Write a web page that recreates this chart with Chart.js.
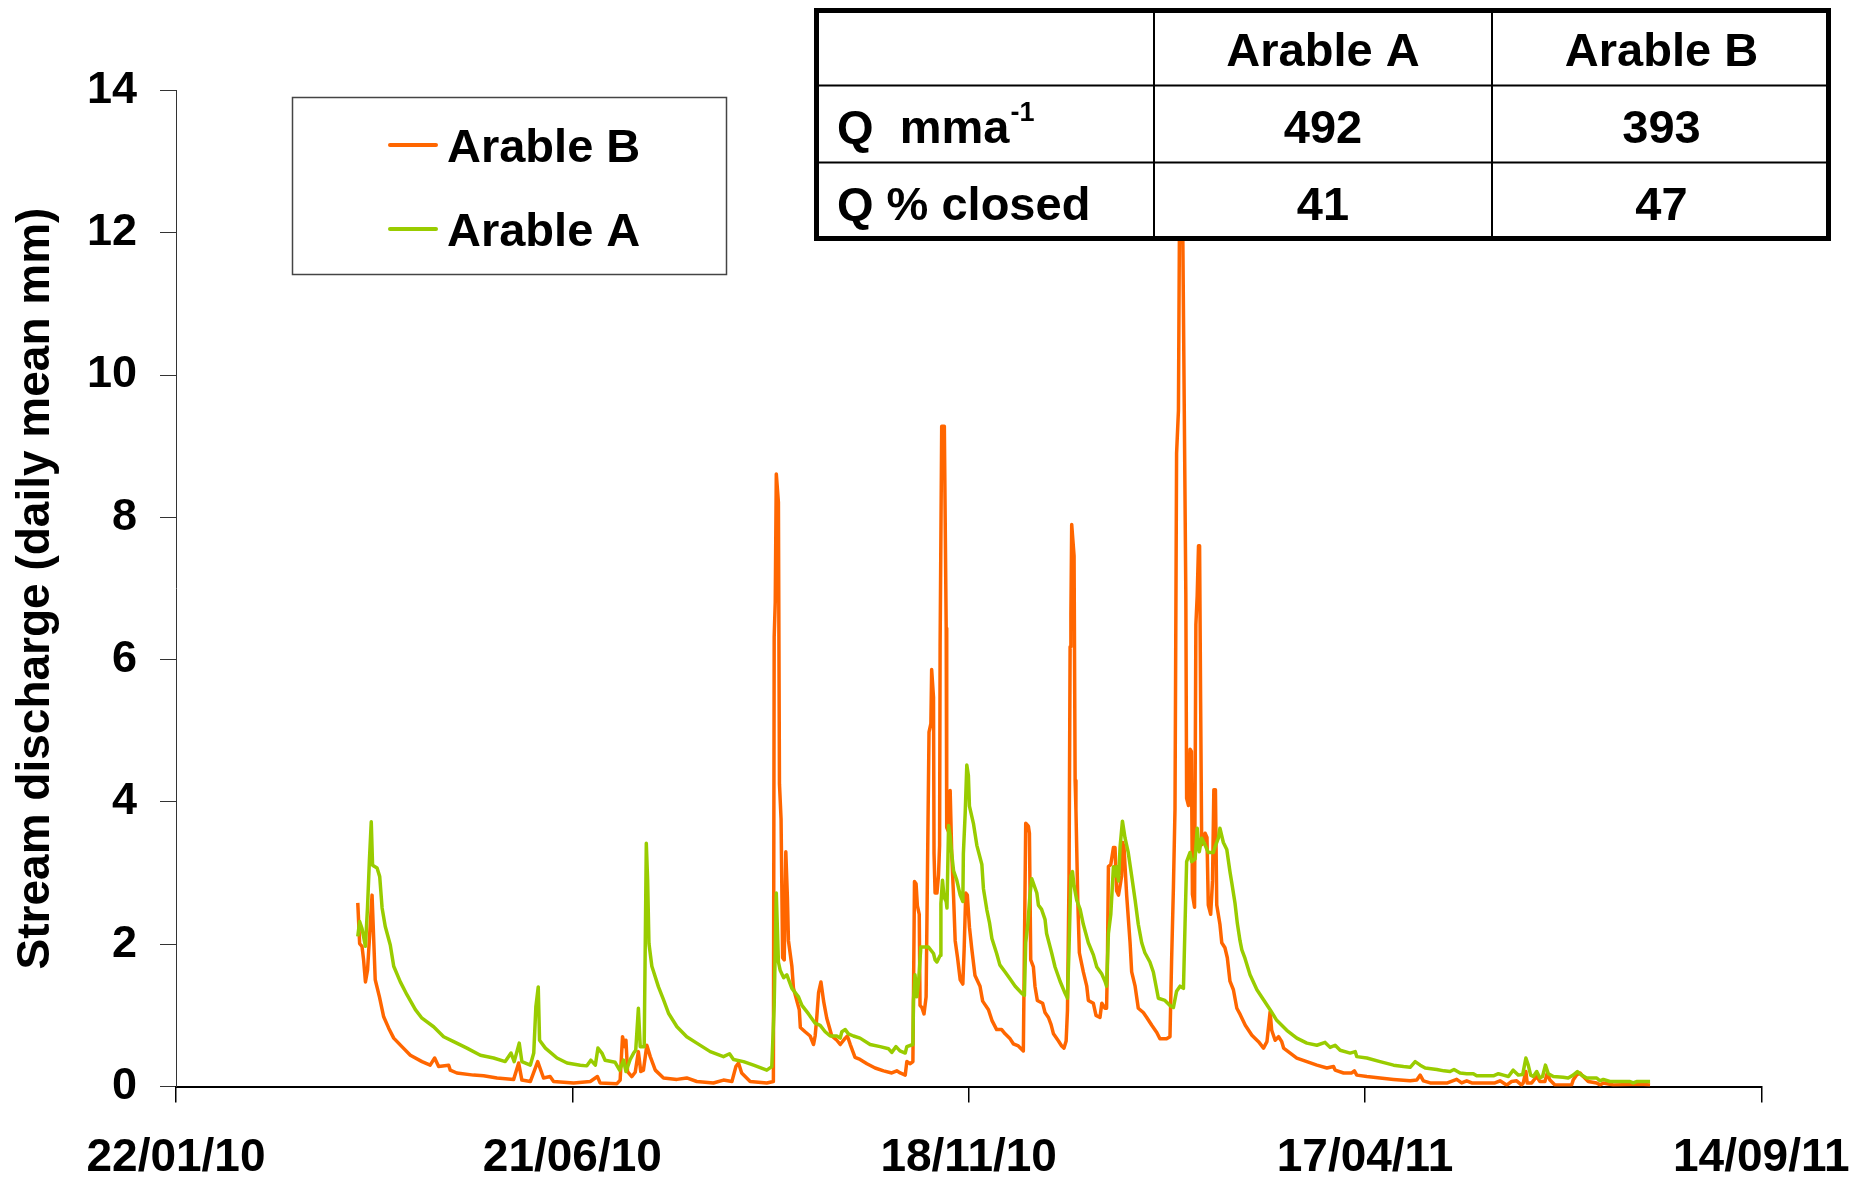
<!DOCTYPE html>
<html>
<head>
<meta charset="utf-8">
<script src="https://cdn.jsdelivr.net/npm/chart.js@4/dist/chart.umd.min.js"></script>
<style>
  html, body { margin: 0; padding: 0; background: #fff; }
  #wrap { position: relative; width: 1861px; height: 1180px; }
</style>
</head>
<body>
<div id="wrap"><canvas id="c" width="1861" height="1180"></canvas></div>
<script>
// Days are counted from 22/01/10 (day 0).
const tickDays = [0, 150, 300, 450, 600];
const tickLabels = ['22/01/10', '21/06/10', '18/11/10', '17/04/11', '14/09/11'];

const seriesNames = ['Arable B', 'Arable A'];

const daysB = [68.8,69.5,70.4,71.0,71.7,72.5,74.2,75.4,77.0,78.6,80.5,82.4,85.5,88.7,93.1,96.2,97.9,99.4,103.2,103.8,106.3,112.6,116.4,121.5,127.8,129.7,130.9,134.1,136.9,139.1,141.6,142.9,150.5,156.8,159.5,160.5,166.9,168.1,169.0,169.8,170.3,170.9,172.5,173.8,175.0,175.9,176.9,178.2,179.5,181.4,184.5,189.6,193.3,197.1,203.4,207.2,210.4,211.9,212.9,214.1,217.3,223.6,226.1,226.4,226.8,227.2,228.0,228.4,229.0,229.6,230.2,230.8,231.4,231.8,233.1,233.7,235.0,235.9,236.3,238.1,240.0,241.3,241.9,242.5,243.2,244.1,245.1,246.3,247.3,248.2,250.1,251.4,253.3,254.1,255.2,257.0,258.9,261.5,264.6,267.8,270.9,272.8,274.1,276.0,276.6,277.9,278.9,279.5,280.1,280.6,281.3,281.6,282.3,283.1,283.9,284.4,285.0,285.7,286.0,286.7,286.9,287.3,288.0,288.6,289.0,289.2,289.8,290.8,291.5,291.7,292.4,293.0,293.6,294.3,294.9,295.8,296.8,297.8,298.3,298.9,299.5,300.3,301.2,302.4,304.3,305.3,307.5,308.8,310.6,312.5,313.8,315.7,316.9,318.8,320.7,321.6,322.6,323.0,323.5,324.5,325.1,326.0,328.0,328.9,330.2,331.2,332.1,334.0,335.2,336.1,336.9,337.4,338.0,338.4,338.7,339.0,339.9,340.3,340.6,341.3,341.9,343.4,344.7,345.3,347.2,348.2,349.7,350.4,351.6,352.2,352.5,352.9,353.8,354.8,355.4,356.0,356.7,357.3,357.9,358.3,358.8,359.8,361.1,361.7,363.0,364.2,366.1,367.4,369.3,371.2,372.4,374.9,376.2,376.8,377.5,378.1,378.7,379.4,379.8,381.0,382.2,382.5,383.2,383.8,384.3,384.7,385.5,386.0,386.5,387.0,387.4,387.8,388.2,389.0,389.5,390.2,390.7,391.6,392.3,392.8,393.4,393.9,395.1,395.8,397.0,397.9,398.9,400.2,401.5,402.8,404.7,407.2,409.7,411.6,412.9,414.1,414.7,416.0,417.3,418.5,419.2,421.7,424.2,428.0,431.8,435.6,438.1,438.7,441.9,445.0,446.0,446.9,450.7,455.7,460.8,467.1,469.6,470.9,472.1,474.7,481.2,484.7,486.6,488.5,490.4,499.2,501.1,503.6,505.5,507.4,509.3,509.9,510.9,511.4,513.1,515.0,516.2,518.1,519.0,520.0,521.9,528.2,528.8,530.1,531.4,532.6,534.5,537.7,539.0,540.2,544.0,554.1,557.9];
const arableB = [2.58,2.01,1.97,1.78,1.47,1.64,2.69,1.50,1.26,0.98,0.82,0.68,0.56,0.44,0.35,0.30,0.40,0.28,0.30,0.23,0.19,0.16,0.15,0.12,0.10,0.33,0.09,0.07,0.35,0.12,0.14,0.07,0.05,0.07,0.14,0.05,0.04,0.09,0.70,0.56,0.65,0.21,0.14,0.20,0.49,0.21,0.23,0.58,0.42,0.23,0.12,0.10,0.12,0.07,0.05,0.09,0.07,0.28,0.33,0.19,0.07,0.05,0.07,6.32,6.81,8.61,8.21,4.25,3.76,1.81,1.78,3.30,2.66,2.05,1.69,1.38,1.20,1.08,0.83,0.77,0.71,0.59,0.71,0.96,1.32,1.47,1.20,0.96,0.83,0.71,0.65,0.59,0.68,0.71,0.59,0.41,0.38,0.32,0.26,0.22,0.19,0.22,0.19,0.16,0.35,0.32,0.35,2.88,2.85,2.54,2.42,1.14,1.11,1.02,1.26,2.97,4.98,5.10,5.86,5.47,3.27,2.72,2.72,2.97,3.39,6.20,9.28,9.28,6.44,3.64,3.58,4.16,3.27,2.66,2.05,1.81,1.50,1.44,1.93,2.72,2.69,2.24,1.93,1.56,1.41,1.20,1.08,0.93,0.80,0.80,0.74,0.67,0.60,0.57,0.50,3.70,3.66,3.56,1.78,1.68,1.41,1.21,1.17,1.04,0.97,0.87,0.74,0.64,0.57,0.54,0.64,1.07,2.96,6.18,6.65,7.90,7.46,4.30,3.90,2.62,1.88,1.61,1.41,1.21,1.17,1.00,0.97,1.17,1.10,1.10,1.68,3.09,3.12,3.36,3.36,2.75,2.69,2.82,2.96,3.43,3.36,2.69,2.02,1.61,1.41,1.10,1.04,0.97,0.86,0.76,0.67,0.67,0.70,1.75,2.80,3.90,8.90,9.50,12.2,12.2,6.90,4.05,3.95,4.74,4.71,2.70,2.52,6.49,6.90,7.60,7.60,5.40,3.40,3.45,3.56,3.50,2.55,2.42,2.89,4.17,4.17,2.55,2.28,2.02,1.95,1.81,1.48,1.36,1.10,1.01,0.86,0.72,0.63,0.54,0.63,1.05,0.79,0.65,0.70,0.63,0.54,0.47,0.40,0.35,0.30,0.26,0.28,0.23,0.19,0.19,0.22,0.16,0.14,0.12,0.10,0.08,0.09,0.16,0.08,0.05,0.05,0.10,0.05,0.08,0.05,0.05,0.08,0.02,0.07,0.08,0.02,0.05,0.21,0.05,0.05,0.14,0.07,0.07,0.19,0.09,0.02,0.02,0.09,0.16,0.19,0.14,0.07,0.05,0.02,0.05,0.02,0.03,0.02];

const daysA = [68.8,69.5,70.4,71.7,72.5,73.2,73.9,74.4,76.1,77.1,78.0,79.2,81.1,82.4,84.9,87.4,90.6,93.1,97.5,101.3,105.1,110.1,115.2,120.2,124.6,126.8,128.0,129.9,130.9,134.1,135.4,136.2,137.1,137.6,139.8,144.2,148.0,153.0,155.5,157.0,158.7,159.7,161.2,162.4,166.2,167.9,169.4,170.3,171.9,173.2,174.0,175.0,175.7,177.2,178.0,178.5,179.0,180.1,182.6,184.5,186.4,189.6,193.3,197.1,202.2,207.2,209.5,211.0,214.8,218.6,223.6,225.5,226.4,227.2,228.0,228.7,230.0,231.2,233.1,235.6,236.9,239.4,241.9,243.8,245.7,247.6,250.1,251.4,252.0,253.3,254.5,256.4,258.9,262.7,266.5,269.7,270.9,272.5,274.0,276.0,276.6,278.9,279.1,279.7,280.4,281.1,281.9,284.8,286.7,287.3,288.0,289.2,289.5,290.1,290.7,291.5,291.8,292.4,293.0,293.6,294.3,295.5,296.8,297.8,298.0,298.7,299.3,299.9,300.3,301.8,303.1,305.0,305.6,306.9,307.9,308.8,310.6,311.8,313.8,315.7,317.6,320.1,321.1,321.6,322.4,323.2,323.9,325.8,326.4,327.6,328.9,329.5,331.4,332.7,334.6,336.5,337.4,338.0,338.7,339.3,339.9,340.9,342.2,343.4,345.3,347.2,348.5,350.4,351.6,352.2,352.9,353.8,354.8,355.4,356.0,356.7,357.3,358.2,359.2,360.4,361.7,363.0,364.2,365.5,366.7,368.6,369.9,371.8,374.3,376.2,377.5,378.7,380.0,381.3,381.9,382.5,383.8,384.4,385.7,386.5,387.3,388.2,389.4,390.7,392.6,393.2,394.5,395.1,396.4,397.7,398.9,399.6,400.8,401.7,402.7,403.4,404.6,406.5,409.1,411.6,414.1,416.6,420.4,424.2,428.0,431.8,434.9,436.8,438.7,440.6,444.4,446.3,446.9,450.7,455.7,460.8,464.6,467.1,469.0,470.9,472.8,477.2,479.9,482.2,483.7,486.0,488.5,491.0,492.3,498.6,500.5,502.4,504.3,506.1,508.0,509.7,510.9,511.8,512.7,513.7,515.0,516.2,517.2,518.3,519.4,521.3,525.0,526.9,528.8,530.4,532.0,533.9,537.7,538.9,540.2,542.7,550.3,551.5,552.8,557.9];
const arableA = [2.11,2.32,2.22,1.97,2.53,3.18,3.72,3.11,3.07,2.95,2.51,2.25,1.99,1.69,1.47,1.29,1.08,0.96,0.84,0.70,0.63,0.54,0.44,0.40,0.35,0.47,0.35,0.61,0.35,0.30,0.47,1.12,1.40,0.65,0.54,0.40,0.33,0.30,0.29,0.37,0.30,0.54,0.47,0.37,0.34,0.23,0.37,0.21,0.38,0.47,0.51,1.10,0.56,0.56,3.42,2.90,2.01,1.69,1.40,1.22,1.03,0.84,0.70,0.61,0.49,0.42,0.46,0.38,0.35,0.30,0.23,0.28,1.14,2.72,1.75,1.63,1.53,1.57,1.38,1.26,1.14,1.02,0.89,0.86,0.77,0.71,0.71,0.68,0.77,0.80,0.74,0.71,0.68,0.59,0.56,0.53,0.48,0.56,0.50,0.47,0.56,0.59,1.20,1.57,1.26,1.50,1.96,1.96,1.87,1.78,1.75,1.84,2.57,2.90,2.66,2.60,2.51,3.67,3.52,3.27,3.03,2.90,2.69,2.60,3.27,3.85,4.52,4.37,3.94,3.70,3.39,3.12,2.78,2.48,2.30,2.08,1.87,1.71,1.61,1.51,1.41,1.31,1.28,2.02,2.28,2.69,2.92,2.72,2.55,2.49,2.35,2.15,1.88,1.68,1.48,1.31,1.24,1.95,2.96,3.02,2.82,2.62,2.49,2.28,2.02,1.85,1.68,1.58,1.48,1.41,2.15,2.42,3.09,2.96,3.09,2.89,3.36,3.73,3.49,3.29,2.96,2.62,2.28,2.02,1.88,1.75,1.61,1.24,1.21,1.14,1.11,1.34,1.41,1.38,2.28,3.16,3.29,3.16,3.20,3.63,3.30,3.49,3.40,3.29,3.29,3.36,3.49,3.63,3.43,3.33,3.02,2.86,2.58,2.29,2.05,1.92,1.80,1.57,1.36,1.22,1.08,0.93,0.79,0.68,0.61,0.58,0.62,0.55,0.58,0.51,0.47,0.49,0.42,0.40,0.35,0.30,0.28,0.27,0.35,0.30,0.26,0.24,0.22,0.21,0.24,0.19,0.18,0.18,0.15,0.15,0.18,0.16,0.14,0.23,0.16,0.17,0.40,0.30,0.16,0.14,0.21,0.12,0.14,0.30,0.18,0.14,0.13,0.12,0.16,0.21,0.16,0.12,0.12,0.08,0.10,0.07,0.07,0.05,0.07,0.07];

// Inset table
const tableCols = ['Arable A', 'Arable B'];
const tableRows = ['Q  mma', 'Q % closed'];
const tableRowSup = ['-1', ''];
const tableQ = [492, 393];
const tableClosed = [41, 47];

const FONT = '"Liberation Sans", Arial, Helvetica, sans-serif';

const toPts = (days, vals) => days.map((d, i) => ({ x: d, y: vals[i] }));

const overlay = {
  id: 'overlay',
  afterDraw(chart) {
    const c = chart.ctx;
    c.save();
    // ---- legend ----
    c.fillStyle = '#fff';
    c.fillRect(292, 97, 434, 177);
    c.strokeStyle = '#444';
    c.lineWidth = 1.5;
    c.strokeRect(292.5, 97.5, 434, 177);
    const ly = [145, 229];
    chart.data.datasets.forEach((ds, i) => {
      c.strokeStyle = ds.borderColor;
      c.lineWidth = 4;
      c.lineCap = 'round';
      c.beginPath();
      c.moveTo(390, ly[i]);
      c.lineTo(436, ly[i]);
      c.stroke();
      c.fillStyle = '#000';
      c.font = 'bold 47px ' + FONT;
      c.textAlign = 'left';
      c.textBaseline = 'alphabetic';
      c.fillText(ds.label, 447, ly[i] + 17);
    });
    // ---- table ----
    const colX = [814, 1154, 1492, 1831];
    const rowY = [8, 85.5, 162.6, 241];
    c.fillStyle = '#fff';
    c.fillRect(colX[0], rowY[0], colX[3] - colX[0], rowY[3] - rowY[0]);
    c.strokeStyle = '#000';
    c.lineWidth = 2;
    c.lineCap = 'butt';
    c.beginPath();
    [colX[1], colX[2]].forEach(x => { c.moveTo(x, rowY[0]); c.lineTo(x, rowY[3]); });
    [rowY[1], rowY[2]].forEach(y => { c.moveTo(colX[0], y); c.lineTo(colX[3], y); });
    c.stroke();
    c.lineWidth = 5;
    c.strokeRect(colX[0] + 2.5, rowY[0] + 2.5, colX[3] - colX[0] - 5, rowY[3] - rowY[0] - 5);

    const base = [66, 143, 220];
    c.fillStyle = '#000';
    c.font = 'bold 47px ' + FONT;
    c.textBaseline = 'alphabetic';
    c.textAlign = 'center';
    tableCols.forEach((t, j) => c.fillText(t, (colX[j + 1] + colX[j + 2]) / 2, base[0]));
    tableQ.forEach((t, j) => c.fillText(String(t), (colX[j + 1] + colX[j + 2]) / 2, base[1]));
    tableClosed.forEach((t, j) => c.fillText(String(t), (colX[j + 1] + colX[j + 2]) / 2, base[2]));
    c.textAlign = 'left';
    tableRows.forEach((t, i) => {
      c.font = 'bold 47px ' + FONT;
      c.fillText(t, 837, base[i + 1]);
      if (tableRowSup[i]) {
        const w = c.measureText(t).width;
        c.font = 'bold 27px ' + FONT;
        c.fillText(tableRowSup[i], 837 + w + 1, base[i + 1] - 22);
      }
    });
    c.restore();
  }
};

new Chart(document.getElementById('c'), {
  type: 'line',
  data: {
    datasets: [
      { label: seriesNames[0], data: toPts(daysB, arableB), borderColor: '#FF6600', backgroundColor: '#FF6600',
        borderWidth: 3.5, pointRadius: 0, tension: 0, fill: false, borderJoinStyle: 'round', order: 2 },
      { label: seriesNames[1], data: toPts(daysA, arableA), borderColor: '#99CC00', backgroundColor: '#99CC00',
        borderWidth: 3.5, pointRadius: 0, tension: 0, fill: false, borderJoinStyle: 'round', order: 1 }
    ]
  },
  options: {
    responsive: false,
    animation: false,
    devicePixelRatio: 1,
    layout: { padding: { left: 0, top: 90.5, right: 99.7, bottom: 0 } },
    plugins: { legend: { display: false }, tooltip: { enabled: false } },
    scales: {
      x: {
        type: 'linear',
        min: tickDays[0],
        max: tickDays[tickDays.length - 1],
        afterBuildTicks: s => { s.ticks = tickDays.map(v => ({ value: v })); },
        afterFit: s => { s.height = 93.5; s.paddingLeft = 0; s.paddingRight = 0; },
        ticks: {
          autoSkip: false, maxRotation: 0, minRotation: 0,
          color: '#000', padding: 28,
          font: { family: FONT, size: 46, weight: 'bold' },
          callback: v => tickLabels[tickDays.indexOf(v)]
        },
        grid: { drawOnChartArea: false, drawTicks: true, tickLength: 16, color: '#000', lineWidth: 1.5 },
        border: { display: true, color: '#000', width: 2 }
      },
      y: {
        min: 0, max: 14,
        afterFit: s => { s.width = 176; s.paddingTop = 0; s.paddingBottom = 0; },
        ticks: {
          stepSize: 2, color: '#000', padding: 23,
          font: { family: FONT, size: 45, weight: 'bold' }
        },
        grid: { drawOnChartArea: false, drawTicks: true, tickLength: 16, color: '#333', lineWidth: 1 },
        border: { display: true, color: '#333', width: 1 },
        title: {
          display: true, text: 'Stream discharge (daily mean mm)', color: '#000',
          font: { family: FONT, size: 46, weight: 'bold' },
          padding: { top: 9, bottom: 0 }
        }
      }
    }
  },
  plugins: [overlay]
});
</script>
</body>
</html>
